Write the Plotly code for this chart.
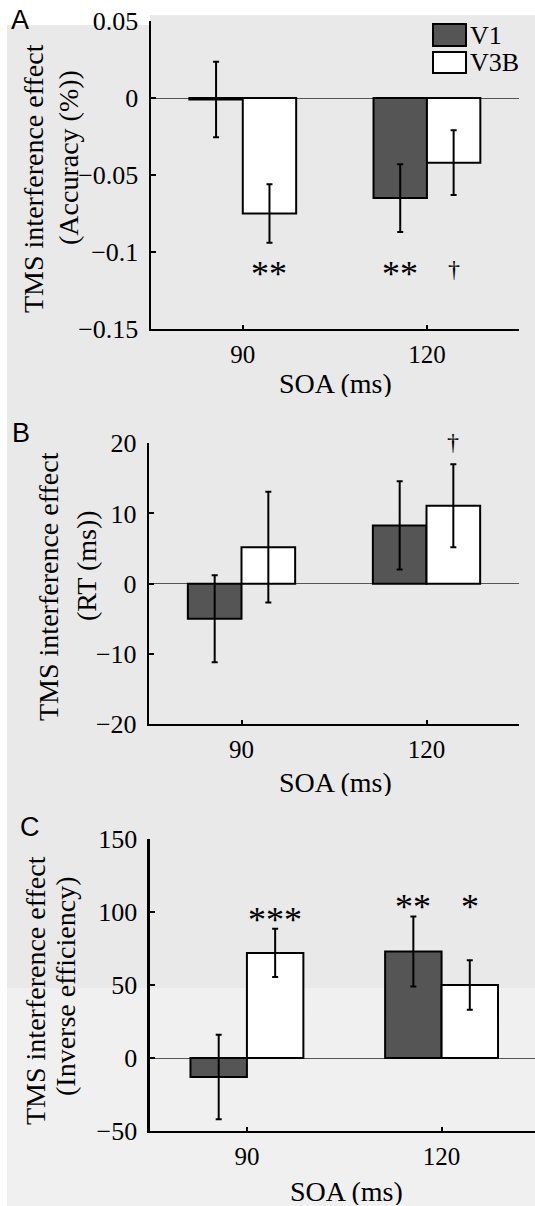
import plotly.graph_objects as go

# ---------------- data ----------------
soa = ["90", "120"]

acc_v1 = [-0.001, -0.065]
acc_v1_err = [0.0245, 0.022]
acc_v3b = [-0.075, -0.042]
acc_v3b_err = [0.019, 0.021]

rt_v1 = [-5.0, 8.3]
rt_v1_err = [6.2, 6.3]
rt_v3b = [5.2, 11.1]
rt_v3b_err = [7.9, 5.9]

ie_v1 = [-13.0, 73.0]
ie_v1_err = [29.0, 24.0]
ie_v3b = [72.0, 50.0]
ie_v3b_err = [16.5, 17.0]

sig_acc_v1 = ["", "**"]
sig_acc_v3b = ["**", "†"]
sig_rt_v1 = ["", ""]
sig_rt_v3b = ["", "†"]
sig_ie_v1 = ["", "**"]
sig_ie_v3b = ["***", "*"]

acc_ticks = [-0.15, -0.1, -0.05, 0, 0.05]
acc_ticktext = ["−0.15", "−0.1", "−0.05", "0", "0.05"]
rt_ticks = [-20, -10, 0, 10, 20]
rt_ticktext = ["−20", "−10", "0", "10", "20"]
ie_ticks = [-50, 0, 50, 100, 150]
ie_ticktext = ["−50", "0", "50", "100", "150"]

series_names = ["V1", "V3B"]
ytitle_main = "TMS interference effect"
ytitle_sub = ["(Accuracy (%))", "(RT (ms))", "(Inverse efficiency)"]
xtitle = "SOA (ms)"
# ---------------------------------------

W, H = 535, 1206
SERIF = "Liberation Serif, Times New Roman, serif"
SANS = "Liberation Sans, Arial, sans-serif"
V1_FILL = "#555555"
BG = "#e9e9e9"
BG2 = "#f0f0f0"


def px(x):
    return x / W


def py(y):
    return 1 - y / H


fig = go.Figure()

panels = [
    ("x", "y", acc_v1, acc_v1_err, acc_v3b, acc_v3b_err),
    ("x2", "y2", rt_v1, rt_v1_err, rt_v3b, rt_v3b_err),
    ("x3", "y3", ie_v1, ie_v1_err, ie_v3b, ie_v3b_err),
]

for xa, ya, v1, v1e, v3, v3e in panels:
    fig.add_trace(go.Bar(
        x=soa, y=v1, name=series_names[0], xaxis=xa, yaxis=ya,
        marker=dict(color=V1_FILL, line=dict(color="black", width=2)),
        error_y=dict(type="data", array=v1e, color="black", thickness=2, width=3),
        offsetgroup="1", showlegend=False, hoverinfo="skip"))
    fig.add_trace(go.Bar(
        x=soa, y=v3, name=series_names[1], xaxis=xa, yaxis=ya,
        marker=dict(color="white", line=dict(color="black", width=2)),
        error_y=dict(type="data", array=v3e, color="black", thickness=2, width=3),
        offsetgroup="2", showlegend=False, hoverinfo="skip"))

common_x = dict(type="category", showline=True, linecolor="black", linewidth=2.2,
                ticks="inside", ticklen=4, tickwidth=2, tickcolor="black",
                showgrid=False, zeroline=False, automargin=False, fixedrange=True,
                tickfont=dict(family=SERIF, size=25, color="black"),
                ticklabelstandoff=2)
common_y = dict(showline=True, linecolor="black", linewidth=2.2,
                ticks="inside", ticklen=5, tickwidth=2, tickcolor="black",
                showgrid=False, zeroline=True, zerolinecolor="#555555", zerolinewidth=1,
                automargin=False, fixedrange=True,
                tickfont=dict(family=SERIF, size=26, color="black"),
                ticklabelstandoff=5)

fig.update_layout(
    xaxis=dict(common_x, domain=[px(150.7), px(519)], range=[-0.5, 1.5], anchor="y"),
    yaxis=dict(common_y, domain=[py(329), py(21)], range=[-0.15, 0.05],
               tickvals=acc_ticks, ticktext=acc_ticktext, anchor="x"),
    xaxis2=dict(common_x, domain=[px(149), px(519)], range=[-0.5, 1.5], anchor="y2"),
    yaxis2=dict(common_y, domain=[py(724), py(443.3)], range=[-20, 20],
                tickvals=rt_ticks, ticktext=rt_ticktext, anchor="x2"),
    xaxis3=dict(common_x, domain=[px(149.6), 1.0], range=[-0.5, 1.48], anchor="y3"),
    yaxis3=dict(common_y, domain=[py(1131), py(839)], range=[-50, 150],
                tickvals=ie_ticks, ticktext=ie_ticktext, anchor="x3"),
    barmode="group", bargap=0.42, bargroupgap=0,
    width=W, height=H, margin=dict(l=0, r=0, t=0, b=0, pad=0),
    paper_bgcolor="white", plot_bgcolor="rgba(0,0,0,0)",
    hovermode=False,
)

# background (scanned-figure look)
shapes = [
    dict(type="rect", xref="paper", yref="paper", x0=px(7), x1=px(150), y0=py(988), y1=py(25),
         fillcolor=BG, line=dict(width=0), layer="below"),
    dict(type="rect", xref="paper", yref="paper", x0=px(150), x1=1, y0=py(988), y1=py(15),
         fillcolor=BG, line=dict(width=0), layer="below"),
    dict(type="rect", xref="paper", yref="paper", x0=px(7), x1=1, y0=0, y1=py(988),
         fillcolor=BG2, line=dict(width=0), layer="below"),
    # legend boxes
    dict(type="rect", xref="paper", yref="paper", x0=px(433), x1=px(466), y0=py(46), y1=py(24),
         fillcolor=V1_FILL, line=dict(color="black", width=2)),
    dict(type="rect", xref="paper", yref="paper", x0=px(433), x1=px(466), y0=py(73), y1=py(52),
         fillcolor="white", line=dict(color="black", width=2)),
]
fig.update_layout(shapes=shapes)

ann = []
# legend texts
for name, y in zip(series_names, [35, 62]):
    ann.append(dict(text=name, x=px(468), y=py(y), xref="paper", yref="paper",
                    xanchor="left", yanchor="middle", showarrow=False, height=26,
                    font=dict(family=SERIF, size=26, color="black")))

# panel letters
for letter, x, y in [("A", 9, 20), ("B", 10, 433), ("C", 18, 827)]:
    ann.append(dict(text=letter, x=px(x), y=py(y), xref="paper", yref="paper",
                    xanchor="left", yanchor="middle", showarrow=False,
                    font=dict(family=SANS, size=27, color="black")))

# y-axis titles (two separately placed lines, rotated)
ytitle_pos = [((33, 179), (69, 158)), ((48, 587), (86, 566)), ((35, 991), (65, 987))]
for sub, ((x1, y1), (x2, y2)) in zip(ytitle_sub, ytitle_pos):
    for text, x, y in [(ytitle_main, x1, y1), (sub, x2, y2)]:
        ann.append(dict(text=text, x=px(x), y=py(y), xref="paper", yref="paper",
                        xanchor="center", yanchor="middle", textangle=-90, showarrow=False,
                        font=dict(family=SERIF, size=28, color="black")))

# x-axis titles
for x, y in [(335, 383), (335, 782), (346, 1191)]:
    ann.append(dict(text=xtitle, x=px(x), y=py(y), xref="paper", yref="paper",
                    xanchor="center", yanchor="middle", showarrow=False, height=28,
                    font=dict(family=SERIF, size=28, color="black")))

# significance markers: anchored at the group's error-bar extreme, shifted in px
bar_off = 0.145  # half of a bar in category units


def add_sig(xa, ya, labels, idx_off, ys, shift_star, shift_dagger):
    for i, (lab, yv) in enumerate(zip(labels, ys)):
        if not lab:
            continue
        dagger = lab == "†"
        ann.append(dict(text=lab, x=i + idx_off, y=yv, xref=xa, yref=ya,
                        xanchor="center", yanchor="middle", showarrow=False,
                        yshift=(shift_dagger if dagger else shift_star),
                        font=dict(family=SERIF, size=(24 if dagger else 36), color="black")))


# A: below the bars
a_low = min(min(v - e for v, e in zip(acc_v1, acc_v1_err)),
            min(v - e for v, e in zip(acc_v3b, acc_v3b_err)))
add_sig("x", "y", sig_acc_v1, -bar_off, [a_low] * 2, -31, -26)
add_sig("x", "y", sig_acc_v3b, bar_off, [a_low] * 2, -31, -26)
# B: above the bars
b_high = max(max(v + e for v, e in zip(rt_v1, rt_v1_err)),
             max(v + e for v, e in zip(rt_v3b, rt_v3b_err)))
add_sig("x2", "y2", sig_rt_v1, -bar_off, [b_high] * 2, 30, 22)
add_sig("x2", "y2", sig_rt_v3b, bar_off, [b_high] * 2, 30, 22)
# C: above each group
c_high = [max(ie_v1[i] + ie_v1_err[i], ie_v3b[i] + ie_v3b_err[i]) for i in range(2)]
add_sig("x3", "y3", sig_ie_v1, -bar_off, c_high, 9, 9)
add_sig("x3", "y3", sig_ie_v3b, bar_off, c_high, 9, 9)

fig.update_layout(annotations=ann)

fig.write_html("out.html",
               config={"displayModeBar": False, "staticPlot": True},
               post_script="document.body.style.margin='0px';document.body.style.overflow='hidden';")
